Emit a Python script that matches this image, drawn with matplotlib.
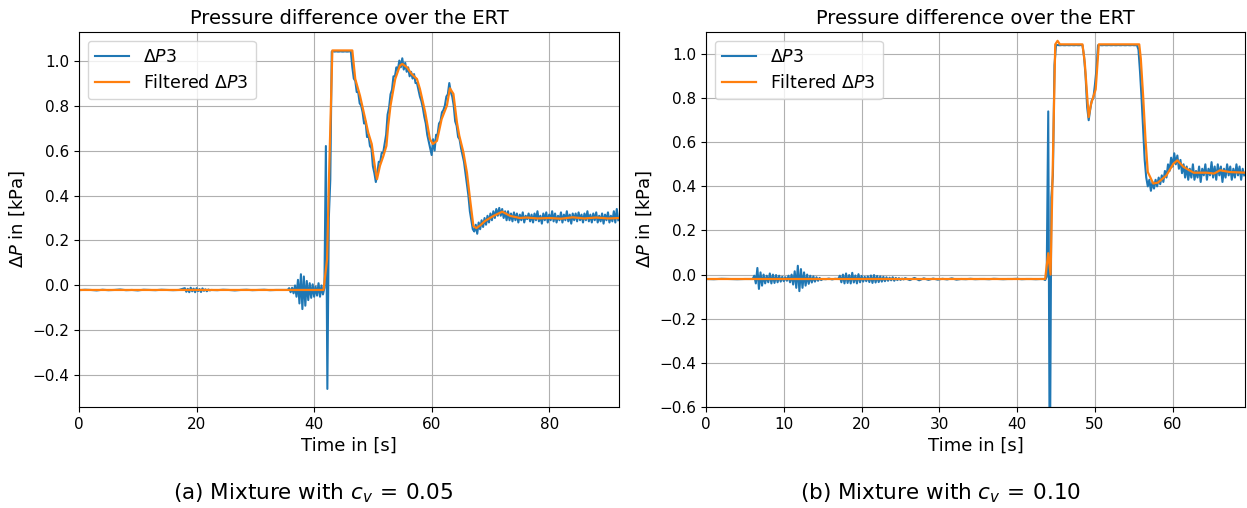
"""
Pressure difference over the ERT for two mixtures (raw vs. filtered dP3).
"""

import matplotlib.pyplot as plt
import numpy as np

# ---------------------------------------------------------------------------
# DATA  (kPa vs. s)
# raw signal is stored as segments: start time, sample step, values
# ---------------------------------------------------------------------------

# --- (a) c_v = 0.05 --------------------------------------------------------
a_quiet1_t0, a_quiet1_dt = 0.0, 1.0
a_quiet1 = [-0.021, -0.019, -0.020, -0.022, -0.019, -0.021, -0.020, -0.018,
            -0.021, -0.020, -0.022, -0.019, -0.020, -0.021, -0.019, -0.020,
            -0.021, -0.020]

a_ripple_t0, a_ripple_dt = 18.0, 0.25
a_ripple = [-0.012, -0.028, -0.015, -0.030, -0.010, -0.026, -0.014, -0.030,
            -0.012, -0.025, -0.016, -0.029, -0.013, -0.024, -0.017, -0.026,
            -0.018, -0.022]

a_quiet2_t0, a_quiet2_dt = 22.5, 1.0
a_quiet2 = [-0.020, -0.021, -0.019, -0.020, -0.022, -0.020, -0.019, -0.021,
            -0.020, -0.019, -0.021, -0.020, -0.020]

a_event_t0, a_event_dt = 35.5, 0.25
a_event = [
    -0.020, -0.012, -0.030, -0.010, -0.035, 0.000, -0.050, 0.025,      # 35.5
    -0.080, 0.050, -0.105, 0.040, -0.090, 0.020, -0.065, 0.010,        # 37.5
    -0.055, 0.005, -0.050, -0.005, -0.045, 0.010, -0.050, 0.000,       # 39.5
    -0.040, -0.010, 0.620, -0.460, 0.300, 0.470, 1.040, 1.041,         # 41.5
    1.040, 1.041, 1.040, 1.040, 1.041, 1.040, 1.040, 1.041,            # 43.5
    1.040, 1.040, 1.041, 1.040, 0.970, 0.920, 0.910, 0.860,            # 45.5
    0.860, 0.810, 0.800, 0.770, 0.720, 0.730, 0.660, 0.670,            # 47.5
    0.620, 0.610, 0.530, 0.500, 0.460, 0.500, 0.550, 0.550,            # 49.5
    0.590, 0.590, 0.630, 0.670, 0.760, 0.790, 0.850, 0.870,            # 51.5
    0.930, 0.930, 0.970, 0.960, 1.000, 0.970, 1.010, 0.960,            # 53.5
    0.990, 0.950, 0.970, 0.930, 0.950, 0.920, 0.940, 0.900,            # 55.5
    0.900, 0.870, 0.840, 0.820, 0.790, 0.750, 0.720, 0.670,            # 57.5
    0.640, 0.610, 0.580, 0.650, 0.600, 0.670, 0.670, 0.720,            # 59.5
    0.730, 0.770, 0.780, 0.800, 0.840, 0.850, 0.900, 0.860,            # 61.5
    0.840, 0.800, 0.730, 0.710, 0.660, 0.650, 0.610, 0.580,            # 63.5
    0.550, 0.500, 0.450, 0.400, 0.330, 0.290, 0.250, 0.240,            # 65.5
    0.270, 0.230, 0.280, 0.250, 0.290, 0.260, 0.300, 0.270,            # 67.5
    0.310, 0.280, 0.320, 0.290, 0.330, 0.300, 0.340, 0.310,            # 69.5
    0.345, 0.310, 0.340, 0.300, 0.330, 0.290, 0.330, 0.290,            # 71.5
    0.320, 0.285, 0.325, 0.290, 0.320, 0.280, 0.315, 0.290,            # 73.5
    0.325, 0.280, 0.310, 0.295, 0.320, 0.285, 0.315, 0.280,            # 75.5
    0.320, 0.290, 0.330, 0.285, 0.310, 0.275, 0.320, 0.290,            # 77.5
    0.325, 0.280, 0.315, 0.290, 0.330, 0.285, 0.320, 0.280,            # 79.5
    0.310, 0.290, 0.325, 0.280, 0.315, 0.290, 0.330, 0.285,            # 81.5
    0.315, 0.275, 0.320, 0.290, 0.320, 0.285, 0.325, 0.290,            # 83.5
    0.315, 0.280, 0.320, 0.290, 0.330, 0.285, 0.315, 0.280,            # 85.5
    0.320, 0.290, 0.325, 0.280, 0.310, 0.285, 0.320, 0.275,            # 87.5
    0.315, 0.290, 0.325, 0.280, 0.310, 0.285, 0.330, 0.280,            # 89.5
    0.340, 0.290,                                                      # 91.5
]

a_filt_t = [0.0, 41.6, 42.2, 42.6, 43.1, 46.5, 47.0, 47.8, 48.7, 49.2, 49.8,
            50.4, 50.7, 51.2, 51.8, 52.3, 52.6, 53.0, 53.8, 54.6, 55.0, 55.8,
            56.6, 57.5, 58.0, 58.9, 59.7, 60.2, 60.9, 61.7, 62.6, 63.1, 63.7,
            64.3, 64.7, 65.4, 66.0, 66.6, 67.1, 67.6, 68.3, 69.1, 70.5, 72.0,
            73.4, 75.0, 76.2, 78.0, 80.0, 82.0, 84.0, 86.0, 88.0, 90.0, 92.0]
a_filt_v = [-0.020, -0.020, 0.116, 0.550, 1.045, 1.045, 0.918, 0.844, 0.740,
            0.680, 0.629, 0.517, 0.473, 0.532, 0.577, 0.621, 0.710, 0.800,
            0.918, 0.978, 0.985, 0.970, 0.940, 0.918, 0.874, 0.770, 0.651,
            0.629, 0.643, 0.740, 0.800, 0.877, 0.852, 0.725, 0.666, 0.592,
            0.502, 0.369, 0.264, 0.255, 0.268, 0.287, 0.309, 0.328, 0.309,
            0.300, 0.302, 0.298, 0.300, 0.297, 0.303, 0.298, 0.302, 0.298,
            0.300]

# --- (b) c_v = 0.10 --------------------------------------------------------
b_quiet1_t0, b_quiet1_dt = 0.0, 1.0
b_quiet1 = [-0.020, -0.021, -0.019, -0.020, -0.021, -0.020]

b_burst_t0, b_burst_dt = 6.0, 0.2
b_burst = [
    -0.020, -0.005, -0.040, 0.030, -0.065, 0.010, -0.050, 0.000,
    -0.040, -0.005, -0.035, 0.005, -0.040, 0.000, -0.038, -0.002,
    -0.035, -0.005, -0.032, -0.010, -0.030, -0.012, -0.028, -0.005,
    -0.035, 0.000, -0.045, 0.015, -0.060, 0.040, -0.075, 0.025,
    -0.060, 0.010, -0.050, 0.000, -0.042, -0.005, -0.036, -0.008,
    -0.032, -0.012, -0.028, -0.015, -0.025, -0.020,
]

b_quiet2_t0, b_quiet2_dt = 15.4, 0.4
b_quiet2 = [-0.021, -0.018, -0.022, -0.019]

b_ripple_t0, b_ripple_dt = 17.0, 0.2
b_ripple = [
    -0.020, -0.005, -0.035, 0.000, -0.040, 0.005, -0.038, -0.002,
    -0.040, 0.008, -0.036, -0.004, -0.040, 0.002, -0.035, -0.006,
    -0.032, -0.010, -0.030, -0.008, -0.034, -0.004, -0.038, -0.002,
    -0.036, -0.006, -0.034, -0.008, -0.032, -0.010, -0.030, -0.012,
    -0.028, -0.014, -0.026, -0.012, -0.028, -0.015, -0.025, -0.016,
    -0.024, -0.018, -0.022,
]

b_quiet3_t0, b_quiet3_dt = 25.6, 0.6
b_quiet3 = [-0.016, -0.025, -0.015, -0.026, -0.017, -0.024, -0.018, -0.023,
            -0.019, -0.022, -0.017, -0.023, -0.020, -0.021, -0.019, -0.021,
            -0.020, -0.020, -0.021, -0.019, -0.020, -0.021, -0.020, -0.020,
            -0.019, -0.021, -0.020, -0.020, -0.021, -0.020]

b_event_t0, b_event_dt = 43.4, 0.2
b_event = [
    -0.020, -0.025, -0.010, 0.740, -1.000, 0.350, 0.450, 0.950,        # 43.4
    1.040, 1.041, 1.040, 1.040, 1.041, 1.040, 1.040, 1.041,            # 45.0
    1.040, 1.040, 1.041, 1.040, 1.040, 1.041, 1.040, 1.040,            # 46.6
    1.041, 1.040, 0.990, 0.900, 0.760, 0.700, 0.750, 0.790,            # 48.2
    0.800, 0.860, 0.930, 1.040, 1.041, 1.040, 1.040, 1.041,            # 49.8
    1.040, 1.040, 1.041, 1.040, 1.040, 1.041, 1.040, 1.040,            # 51.4
    1.041, 1.040, 1.040, 1.041, 1.040, 1.040, 1.041, 1.040,            # 53.0
    1.040, 1.041, 1.040, 1.040, 1.041, 1.020, 0.920, 0.800,            # 54.6
    0.660, 0.520, 0.440, 0.400, 0.430, 0.380, 0.420, 0.390,            # 56.2
    0.430, 0.400, 0.440, 0.410, 0.450, 0.420, 0.470, 0.440,            # 57.8
    0.500, 0.470, 0.530, 0.490, 0.550, 0.500, 0.540, 0.480,            # 59.4
    0.520, 0.460, 0.500, 0.440, 0.490, 0.430, 0.480, 0.440,            # 61.0
    0.500, 0.430, 0.470, 0.440, 0.490, 0.420, 0.480, 0.450,            # 62.6
    0.500, 0.430, 0.480, 0.450, 0.510, 0.440, 0.490, 0.430,            # 64.2
    0.500, 0.450, 0.490, 0.420, 0.480, 0.440, 0.500, 0.450,            # 65.8
    0.490, 0.430, 0.480, 0.440, 0.500, 0.450, 0.490, 0.430,            # 67.4
    0.480, 0.450,                                                      # 69.0
]

b_filt_t = [0.0, 43.6, 44.0, 44.3, 44.9, 45.2, 45.5, 48.4, 48.7, 49.2, 49.5,
            50.1, 50.5, 55.7, 55.9, 56.2, 56.5, 56.8, 57.5, 58.1, 59.2, 60.1,
            60.6, 61.4, 62.7, 64.4, 65.3, 66.1, 67.3, 69.4]
b_filt_v = [-0.020, -0.020, 0.097, 0.000, 1.044, 1.060, 1.044, 1.044, 0.960,
            0.714, 0.774, 0.840, 1.044, 1.044, 0.980, 0.810, 0.616, 0.465,
            0.413, 0.417, 0.450, 0.503, 0.518, 0.488, 0.462, 0.462, 0.458,
            0.473, 0.465, 0.462]

# ---------------------------------------------------------------------------
# HELPERS
# ---------------------------------------------------------------------------

def _join(segments):
    """Stitch (t0, dt, values) segments into one time/value pair."""
    ts, vs = [], []
    for t0, dt, vals in segments:
        ts.append(t0 + dt * np.arange(len(vals)))
        vs.append(np.asarray(vals))
    return np.concatenate(ts), np.concatenate(vs)


def _panel(ax, raw, filt, xlim, ylim, xticks, yticks):
    ax.plot(*raw, color="#1f77b4", lw=1.5, label=r"$\Delta P3$")
    ax.plot(*filt, color="#ff7f0e", lw=1.6, label=r"Filtered $\Delta P3$")
    ax.set_xlim(*xlim)
    ax.set_ylim(*ylim)
    ax.set_xticks(xticks)
    ax.set_yticks(yticks)
    ax.set_title("Pressure difference over the ERT", fontsize=14)
    ax.set_xlabel("Time in [s]", fontsize=13)
    ax.set_ylabel(r"$\Delta P$ in [kPa]", fontsize=13)
    ax.tick_params(labelsize=11)
    ax.grid(True)
    ax.legend(loc="upper left", fontsize=12.5)

# ---------------------------------------------------------------------------
# PLOT
# ---------------------------------------------------------------------------

raw_a = _join([(a_quiet1_t0, a_quiet1_dt, a_quiet1),
               (a_ripple_t0, a_ripple_dt, a_ripple),
               (a_quiet2_t0, a_quiet2_dt, a_quiet2),
               (a_event_t0, a_event_dt, a_event)])
raw_b = _join([(b_quiet1_t0, b_quiet1_dt, b_quiet1),
               (b_burst_t0, b_burst_dt, b_burst),
               (b_quiet2_t0, b_quiet2_dt, b_quiet2),
               (b_ripple_t0, b_ripple_dt, b_ripple),
               (b_quiet3_t0, b_quiet3_dt, b_quiet3),
               (b_event_t0, b_event_dt, b_event)])

fig = plt.figure(figsize=(12.47, 5.08), dpi=100)
ax_a = fig.add_axes([0.0634, 0.199, 0.4331, 0.738])
ax_b = fig.add_axes([0.5662, 0.199, 0.4322, 0.738])

_panel(ax_a, raw_a, (a_filt_t, a_filt_v), (0, 91.9), (-0.54, 1.127),
       [0, 20, 40, 60, 80], np.arange(-0.4, 1.01, 0.2))
_panel(ax_b, raw_b, (b_filt_t, b_filt_v), (0, 69.3), (-0.6, 1.1),
       [0, 10, 20, 30, 40, 50, 60], np.arange(-0.6, 1.01, 0.2))

fig.text(0.251, 0.016, r"(a) Mixture with $c_v\,=\,0.05$", ha="center", fontsize=15.5)
fig.text(0.754, 0.016, r"(b) Mixture with $c_v\,=\,0.10$", ha="center", fontsize=15.5)

plt.savefig("out.png", dpi=100)
